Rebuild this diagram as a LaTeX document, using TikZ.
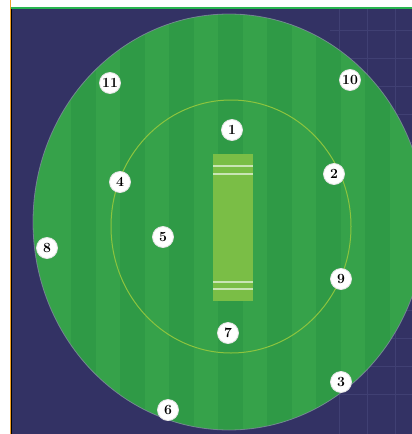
\documentclass[tikz,border=0pt]{standalone}
\usepackage{tikz}
\usetikzlibrary{positioning,calc}
\definecolor{NightSky}{RGB}{51,50,100}
\definecolor{GridLine}{RGB}{64,64,115}
\definecolor{FieldLight}{RGB}{54,162,74}
\definecolor{FieldDark}{RGB}{47,154,70}
\definecolor{PitchGreen}{RGB}{122,190,70}
\definecolor{RingYellow}{RGB}{140,196,62}
\definecolor{EdgeGreen}{RGB}{40,180,80}
\definecolor{EdgeOrange}{RGB}{240,160,40}
\tikzset{
  fielder/.style={circle,draw=white!90!black,line width=0.8pt,fill=white,inner sep=0pt,
    minimum size=21pt,font=\bfseries\fontsize{14}{14}\selectfont,text=black},
  crease/.style={draw=white,opacity=0.6,line width=1.2pt},
}
\begin{document}
\begin{tikzpicture}[x=1pt,y=1pt,yscale=-1]
\useasboundingbox (0,0) rectangle (412,434);
\fill[white] (0,0) rectangle (412,434);
\fill[NightSky] (11,9) rectangle (412,434);
\draw[EdgeGreen,line width=2pt] (11,8) -- (412,8);
\draw[EdgeOrange,line width=1pt] (10,0) -- (10,434);
\draw[black,line width=1.5pt] (11.5,9) -- (11.5,434);
% faint grid on the right
\foreach \gx in {339,367,395} \draw[GridLine,line width=0.6pt] (\gx,9) -- (\gx,434);
\foreach \gy in {30,58,...,420} \draw[GridLine,line width=0.6pt] (330,\gy) -- (412,\gy);
% outfield
\coordinate (mid) at (229,222);
\begin{scope}
\clip (mid) ellipse [x radius=196,y radius=208];
\fill[FieldLight] (0,0) rectangle (412,434);
\foreach \sx in {-2,0,...,14} \fill[FieldDark] (120+24.5*\sx,0) rectangle (144.5+24.5*\sx,434);
\end{scope}
\draw[GridLine!60!white,line width=0.8pt,opacity=0.7] (mid) ellipse [x radius=196,y radius=208];
% inner ring
\draw[RingYellow,line width=1pt] (231,226.5) ellipse [x radius=120,y radius=126.5];
% pitch
\fill[PitchGreen] (213,154) rectangle (253,301);
\draw[crease] (213,166) -- (253,166);
\draw[crease] (213,174) -- (253,174);
\draw[crease] (213,282) -- (253,282);
\draw[crease] (213,289) -- (253,289);
% fielders
\node[fielder] (f1) at (232,130) {1};
\node[fielder] (f2) at (334,174) {2};
\node[fielder] (f3) at (341,382) {3};
\node[fielder] (f4) at (120,182) {4};
\node[fielder] (f5) at (163,237) {5};
\node[fielder] (f6) at (168,410) {6};
\node[fielder] (f7) at (228,333) {7};
\node[fielder] (f8) at (47,248) {8};
\node[fielder] (f9) at (341,279) {9};
\node[fielder] (f10) at (350,80) {10};
\node[fielder] (f11) at (110,83) {11};
\end{tikzpicture}
\end{document}
